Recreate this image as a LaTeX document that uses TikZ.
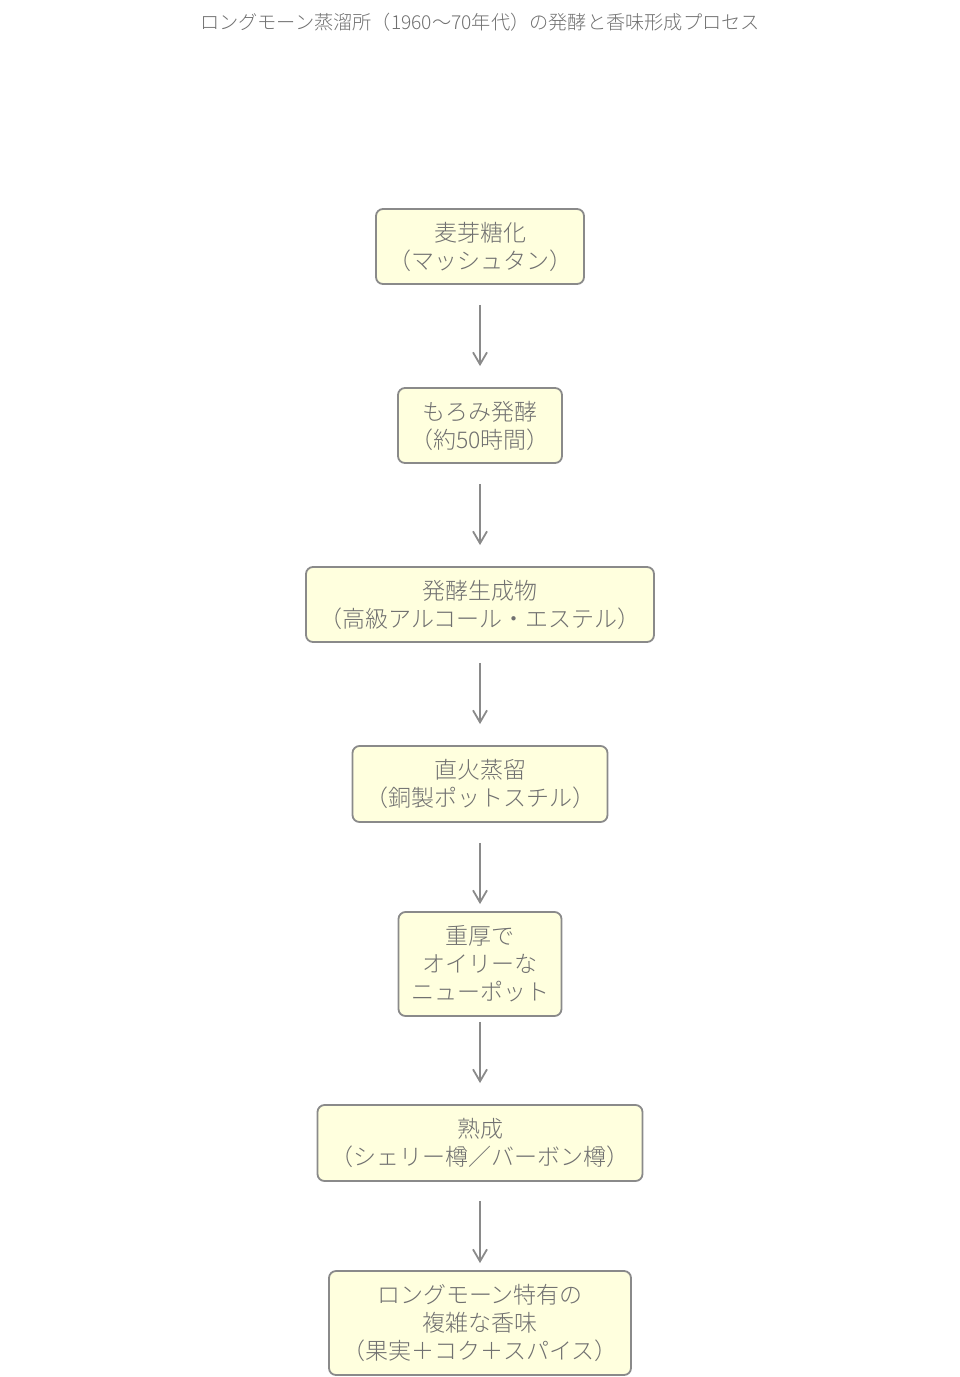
\documentclass[tikz,border=0pt]{standalone}
\usepackage{fontspec}
\setmainfont{Noto Sans CJK JP}[UprightFont={* Light}]
\usetikzlibrary{graphs,arrows.meta}
\definecolor{boxfill}{HTML}{FFFFDE}
\definecolor{boxline}{HTML}{8A8A8A}
\definecolor{inkgray}{HTML}{707070}
\tikzset{
    stage/.style ={
        shape=rectangle,
        rounded corners=7pt,
        draw=boxline,
        line width=1.8pt,
        fill=boxfill,
        text=inkgray,
        align=center,
        font=\fontsize{23}{28}\selectfont,
        inner sep=0pt
    },
    flow/.style ={
        draw=boxline,
        line width=1.8pt,
        shorten <=20pt,
        shorten >=21pt
    }
}

\begin{document}
\begin{tikzpicture}[x=1pt,y=-1pt,>={Straight Barb[length=12pt,width=14pt]}]
    \useasboundingbox (0,0) rectangle (960,1377);
    \node[text=inkgray,font=\fontsize{19.2}{23}\selectfont] (title) at(480,22) {ロングモーン蒸溜所（1960〜70年代）の発酵と香味形成プロセス};
    \node[stage,minimum width=208pt,minimum height=75pt] (mash) at(480,246.5) {麦芽糖化\\（マッシュタン）};
    \node[stage,minimum width=164pt,minimum height=75pt] (ferm) at(480,425.5) {もろみ発酵\\（約50時間）};
    \node[stage,minimum width=348pt,minimum height=75pt] (esters) at(480,604.5) {発酵生成物\\（高級アルコール・エステル）};
    \node[stage,minimum width=255pt,minimum height=76pt] (still) at(480,784) {直火蒸留\\（銅製ポットスチル）};
    \node[stage,minimum width=163pt,minimum height=104pt] (spirit) at(480,964) {重厚で\\オイリーな\\ニューポット};
    \node[stage,minimum width=325pt,minimum height=76pt] (cask) at(480,1143) {熟成\\（シェリー樽／バーボン樽）};
    \node[stage,minimum width=302pt,minimum height=104pt] (flavour) at(480,1323) {ロングモーン特有の\\複雑な香味\\（果実＋コク＋スパイス）};
    \graph[edges={flow}]{
        (mash)->(ferm)->(esters)->(still);
        (still)->[shorten >=7pt](spirit);
        (spirit)->[shorten <=5pt](cask);
        (cask)->[shorten <=19pt,shorten >=7pt](flavour);
    };
\end{tikzpicture}
\end{document}
